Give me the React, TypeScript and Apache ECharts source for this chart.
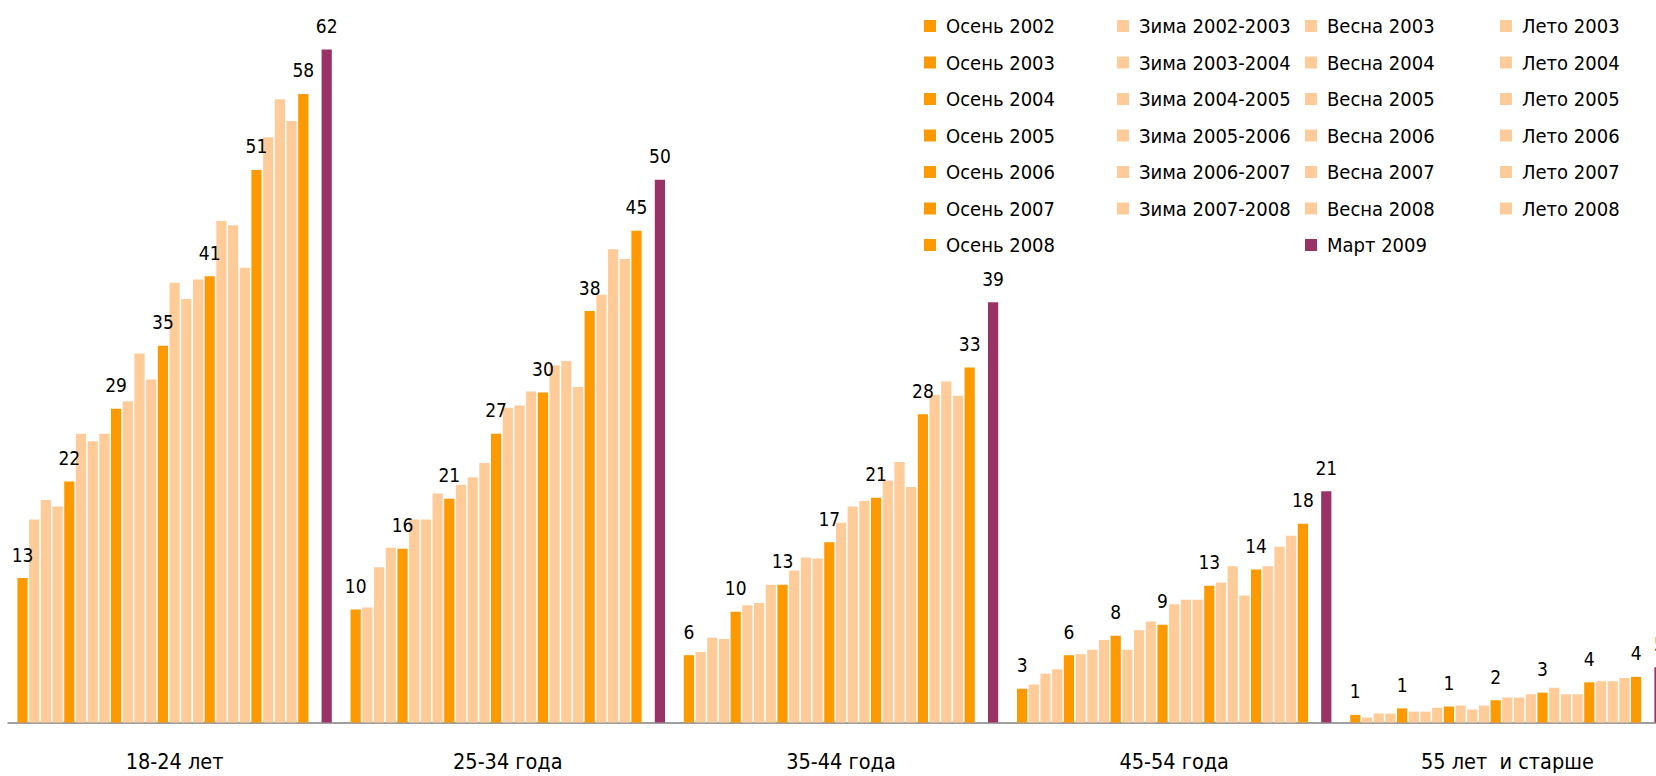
import React, { useEffect, useRef } from 'react';
import * as echarts from 'echarts';

const categories = ['18-24 лет', '25-34 года', '35-44 года', '45-54 года', '55 лет  и старше'];

const seriesNames = [
  'Осень 2002', 'Зима 2002-2003', 'Весна 2003', 'Лето 2003',
  'Осень 2003', 'Зима 2003-2004', 'Весна 2004', 'Лето 2004',
  'Осень 2004', 'Зима 2004-2005', 'Весна 2005', 'Лето 2005',
  'Осень 2005', 'Зима 2005-2006', 'Весна 2006', 'Лето 2006',
  'Осень 2006', 'Зима 2006-2007', 'Весна 2007', 'Лето 2007',
  'Осень 2007', 'Зима 2007-2008', 'Весна 2008', 'Лето 2008',
  'Осень 2008', 'Март 2009',
];

// values per age group, in the order of seriesNames
const age18_24 = [13.3, 18.7, 20.5, 19.9, 22.2, 26.6, 25.9, 26.6, 28.9, 29.6, 34.0, 31.6, 34.7, 40.5, 39.0, 40.8, 41.1, 46.2, 45.8, 41.9, 50.9, 53.9, 57.4, 55.4, 57.9, 62];
const age25_34 = [10.4, 10.6, 14.3, 16.1, 16.0, 18.7, 18.7, 21.1, 20.6, 21.9, 22.6, 23.9, 26.6, 29.0, 29.2, 30.5, 30.4, 32.9, 33.3, 30.9, 37.9, 39.4, 43.6, 42.7, 45.3, 50];
const age35_44 = [6.2, 6.5, 7.8, 7.7, 10.2, 10.8, 11.0, 12.7, 12.7, 14.0, 15.2, 15.1, 16.6, 18.4, 19.9, 20.4, 20.7, 22.3, 24.0, 21.7, 28.4, 30.2, 31.4, 30.1, 32.7, 38.7];
const age45_54 = [3.1, 3.5, 4.5, 4.9, 6.2, 6.3, 6.7, 7.6, 8.0, 6.7, 8.5, 9.3, 9.0, 10.9, 11.3, 11.3, 12.6, 12.9, 14.4, 11.7, 14.1, 14.4, 16.2, 17.2, 18.3, 21.3];
const age55plus = [0.7, 0.46, 0.83, 0.83, 1.3, 1.0, 1.0, 1.35, 1.47, 1.56, 1.2, 1.56, 2.05, 2.3, 2.3, 2.6, 2.75, 3.2, 2.6, 2.6, 3.7, 3.8, 3.8, 4.1, 4.2, 5.1];

const legendCol1 = ['Осень 2002', 'Осень 2003', 'Осень 2004', 'Осень 2005', 'Осень 2006', 'Осень 2007', 'Осень 2008'];
const legendCol2 = ['Зима 2002-2003', 'Зима 2003-2004', 'Зима 2004-2005', 'Зима 2005-2006', 'Зима 2006-2007', 'Зима 2007-2008'];
const legendCol3 = ['Весна 2003', 'Весна 2004', 'Весна 2005', 'Весна 2006', 'Весна 2007', 'Весна 2008', 'Март 2009'];
const legendCol4 = ['Лето 2003', 'Лето 2004', 'Лето 2005', 'Лето 2006', 'Лето 2007', 'Лето 2008'];

const FONT = "'DejaVu Sans Condensed', 'Liberation Sans Narrow', sans-serif";
const ORANGE = '#FF9900';
const LIGHT = '#FFCC99';
const PURPLE = '#993366';

export default function App() {
  const ref = useRef<HTMLDivElement>(null);
  useEffect(() => {
    const chart = echarts.init(ref.current as HTMLDivElement, null, { renderer: 'svg' });
    const groups = [age18_24, age25_34, age35_44, age45_54, age55plus];
    const barWidth = 10.2;
    const barGap = '14.7%';
    const series: any[] = [];
    seriesNames.forEach((name, i) => {
      const isMarch = name === 'Март 2009';
      const isAutumn = name.startsWith('Осень');
      if (isMarch) {
        series.push({ type: 'bar', name: '_gap', data: groups.map(() => '-'), barWidth, barGap, silent: true });
      }
      series.push({
        type: 'bar',
        name,
        data: groups.map((g) => g[i]),
        barWidth,
        barGap,
        itemStyle: { color: isMarch ? PURPLE : isAutumn ? ORANGE : LIGHT },
        label: {
          show: isMarch || isAutumn,
          position: 'top',
          distance: 14,
          formatter: (p: any) => String(Math.round(p.value)),
          fontSize: 19,
          color: '#000',
          fontFamily: FONT,
        },
      });
    });
    const mkLegend = (data: string[], left: number) => ({
      data: data.map((n) => ({ name: n, icon: 'rect' })),
      orient: 'vertical',
      left,
      top: 13,
      padding: 0,
      itemWidth: 12,
      itemHeight: 12,
      itemGap: 10.5,
      selectedMode: false,
      textStyle: { fontSize: 20, lineHeight: 26, color: '#000', fontFamily: FONT, padding: [0, 0, 0, 5] },
    });
    chart.setOption({
      animation: false,
      backgroundColor: '#fff',
      legend: [
        mkLegend(legendCol1, 924),
        mkLegend(legendCol2, 1117),
        mkLegend(legendCol3, 1305),
        mkLegend(legendCol4, 1500),
      ],
      grid: { left: 8, right: 6, top: 6, bottom: 53.5, containLabel: false },
      xAxis: {
        type: 'category',
        data: categories,
        axisTick: { show: false },
        axisLine: { lineStyle: { color: '#808080', width: 1.5 } },
        axisLabel: { margin: 28, fontSize: 21.5, color: '#000', fontFamily: FONT },
      },
      yAxis: { type: 'value', min: 0, max: 66, show: false, splitLine: { show: false } },
      series,
    });
    return () => chart.dispose();
  }, []);
  return (
    <div style={{ position: 'fixed', left: 0, top: 0, width: 1656, height: 776, overflow: 'hidden', background: '#fff' }}>
      <div ref={ref} style={{ width: 1680, height: 776 }} />
    </div>
  );
}
